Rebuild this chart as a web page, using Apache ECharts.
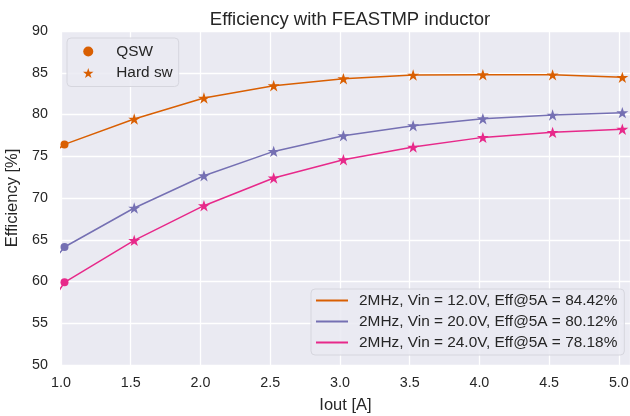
<!DOCTYPE html>
<html>
<head>
<meta charset="utf-8">
<script src="https://cdn.jsdelivr.net/npm/echarts@6/dist/echarts.min.js"></script>
<style>
html,body{margin:0;padding:0;background:#fff;}
#chart{width:630px;height:416px;}
</style>
</head>
<body>
<div id="chart"></div>
<script>
// Output current [A]; first point below 1.0 is clipped by the axis range
var iout = [0.52, 1.025, 1.525, 2.025, 2.525, 3.025, 3.525, 4.025, 4.525, 5.025];
var eff12 = [70.0, 76.42, 79.46, 81.97, 83.45, 84.29, 84.73, 84.77, 84.75, 84.45];
var eff20 = [53.6, 64.13, 68.80, 72.67, 75.58, 77.46, 78.66, 79.50, 79.94, 80.22];
var eff24 = [47.1, 59.90, 64.92, 69.08, 72.40, 74.59, 76.10, 77.26, 77.86, 78.24];
var seriesNames = [
  "2MHz, Vin = 12.0V, Eff@5A = 84.42%",
  "2MHz, Vin = 20.0V, Eff@5A = 80.12%",
  "2MHz, Vin = 24.0V, Eff@5A = 78.18%"
];
var markerNames = ["QSW", "Hard sw"];
var colors = ["#d95f02", "#7570b3", "#e7298a"];
var STAR = 'path://M0,-1L0.2245,-0.309L0.951,-0.309L0.363,0.118L0.588,0.809L0,0.382L-0.588,0.809L-0.363,0.118L-0.951,-0.309L-0.2245,-0.309Z';
var FONT = '"Liberation Sans", Arial, sans-serif';

function buildData(ys) {
  return iout.map(function (x, i) {
    var item = { value: [x, ys[i]] };
    if (i === 0) { item.symbol = 'none'; }
    else if (i === 1) { item.symbol = 'circle'; item.symbolSize = 8; }
    else { item.symbol = STAR; item.symbolSize = 12; }
    return item;
  });
}

var effs = [eff12, eff20, eff24];
var series = effs.map(function (ys, k) {
  return {
    name: seriesNames[k],
    type: 'line',
    data: buildData(ys),
    color: colors[k],
    lineStyle: { width: 1.5, color: colors[k] },
    itemStyle: { color: colors[k] },
    symbolKeepAspect: true,
    clip: true,
    z: 3 + k,
    animation: false
  };
});
// marker-only entries for the top-left legend
series.push({ name: markerNames[0], type: 'line', data: [], color: colors[0], symbol: 'circle' });
series.push({ name: markerNames[1], type: 'line', data: [], color: colors[0], symbol: STAR });

var chart = echarts.init(document.getElementById('chart'), null, { renderer: 'canvas' });
chart.setOption({
  backgroundColor: '#ffffff',
  animation: false,
  title: {
    text: 'Efficiency with FEASTMP inductor',
    left: 345, textAlign: 'center', top: 5,
    textStyle: { fontFamily: FONT, fontSize: 18.5, fontWeight: 'normal', color: '#262626' }
  },
  grid: {
    left: 61, right: 0, top: 31, bottom: 51,
    backgroundColor: '#eaeaf2', show: true, borderWidth: 0,
    containLabel: false, outerBoundsMode: 'none'
  },
  xAxis: {
    type: 'value', min: 1.0, max: 5.08, interval: 0.5,
    name: 'Iout [A]', nameLocation: 'middle', nameGap: 32,
    nameTextStyle: { fontFamily: FONT, fontSize: 16.5, color: '#262626' },
    axisLine: { show: false }, axisTick: { show: false },
    axisLabel: {
      fontFamily: FONT, fontSize: 14.3, color: '#262626', margin: 11,
      formatter: function (v) { var r = Math.round(v * 2) / 2; return Math.abs(r - v) < 1e-6 ? v.toFixed(1) : ''; }
    },
    splitLine: { show: true, lineStyle: { color: '#ffffff', width: 1.3 } }
  },
  yAxis: {
    type: 'value', min: 50, max: 90, interval: 5,
    name: 'Efficiency [%]', nameLocation: 'middle', nameGap: 37,
    nameTextStyle: { fontFamily: FONT, fontSize: 16.5, color: '#262626' },
    axisLine: { show: false }, axisTick: { show: false },
    axisLabel: { fontFamily: FONT, fontSize: 14.3, color: '#262626', margin: 13 },
    splitLine: { show: true, lineStyle: { color: '#ffffff', width: 1.3 } }
  },
  legend: [
    {
      data: [
        { name: markerNames[0], icon: 'circle' },
        { name: markerNames[1], icon: STAR }
      ],
      left: 67, top: 38, orient: 'vertical',
      padding: [6, 6, 6, 16], itemGap: 6.5, itemWidth: 20, itemHeight: 10,
      backgroundColor: 'rgba(234,234,242,0.85)', borderColor: '#d6d6de', borderWidth: 1, borderRadius: 4,
      selectedMode: false,
      textStyle: { fontFamily: FONT, fontSize: 15.4, color: '#262626', padding: [0, 0, 0, 13] }
    },
    {
      data: seriesNames.map(function (n) { return { name: n, icon: 'rect' }; }),
      left: 311, top: 289, orient: 'vertical',
      padding: [4, 7, 5, 5], itemGap: 6, itemWidth: 32, itemHeight: 2,
      backgroundColor: 'rgba(234,234,242,0.85)', borderColor: '#d6d6de', borderWidth: 1, borderRadius: 4,
      selectedMode: false,
      textStyle: { fontFamily: FONT, fontSize: 15.4, color: '#262626', padding: [0, 0, 0, 6] }
    }
  ],
  series: series
});
</script>
</body>
</html>
